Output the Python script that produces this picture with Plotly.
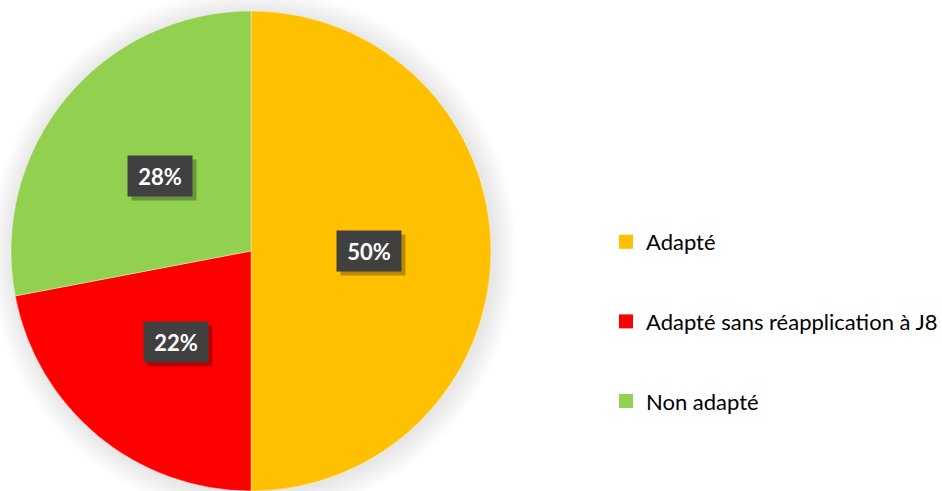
import math
import plotly.graph_objects as go

# Data
categories = ["Adapté", "Adapté sans réapplication à J8", "Non adapté"]
shares = [50, 22, 28]
colors = ["#FFC000", "#FF0000", "#92D050"]

W, H = 942, 491
CX, CY, R = 251, 251, 240          # pie centre / radius in px (y from top)
LABEL_FRAC = 0.49                  # label distance from centre, as fraction of R

fig = go.Figure()

fig.add_trace(go.Pie(
    labels=categories,
    values=shares,
    marker=dict(colors=colors, line=dict(color="rgba(255,255,255,0.6)", width=0.6)),
    sort=False,
    direction="clockwise",
    rotation=0,
    textinfo="none",
    textposition="none",
    showlegend=False,
    hoverinfo="label+percent",
    domain=dict(x=[(CX - R) / W, (CX + R) / W],
                y=[(H - CY - R) / H, (H - CY + R) / H]),
))

# Legend entries as square markers, one group each so they can be spaced out
for name, col in zip(categories, colors):
    fig.add_trace(go.Scatter(
        x=[None], y=[None], mode="markers", name=name, legendgroup=name,
        marker=dict(symbol="square", size=14, color=col),
    ))

# Soft shadow around the pie: stacked translucent discs
shapes = []
for k in range(12, 0, -1):
    r = R + 2 * k
    shapes.append(dict(
        type="circle", xref="paper", yref="paper", layer="below",
        x0=(CX + 2 - r) / W, x1=(CX + 2 + r) / W,
        y0=(H - CY - 2 - r) / H, y1=(H - CY - 2 + r) / H,
        fillcolor="rgba(0,0,0,0.009)", line=dict(width=0),
    ))

# Percentage labels on dark boxes, placed along each slice's mid-angle
annotations = []
total = sum(shares)
cum = 0
for v in shares:
    theta = (cum + v / 2) / total * 2 * math.pi
    cum += v
    px = CX + LABEL_FRAC * R * math.sin(theta)
    py = CY - LABEL_FRAC * R * math.cos(theta)
    pct = f"{round(v / total * 100)}%"
    common = dict(xref="paper", yref="paper", x=px / W, y=1 - py / H,
                  showarrow=False, width=62, height=38,
                  xanchor="center", yanchor="middle")
    annotations.append(dict(text=" ", bgcolor="rgba(0,0,0,0.28)",
                            xshift=4, yshift=-4, **common))
    annotations.append(dict(text=pct, bgcolor="#404040",
                            font=dict(family="Lato", size=22, color="white", weight="bold"),
                            **common))

fig.update_layout(
    width=W, height=H,
    margin=dict(l=0, r=0, t=0, b=0, autoexpand=False),
    paper_bgcolor="white", plot_bgcolor="white",
    xaxis=dict(visible=False), yaxis=dict(visible=False),
    shapes=shapes,
    annotations=annotations,
    legend=dict(
        x=606 / W, y=1 - 221 / H, xanchor="left", yanchor="top",
        font=dict(family="Lato", size=22, color="#000000"),
        tracegroupgap=48, bgcolor="rgba(0,0,0,0)",
    ),
)

fig.write_html("out.html")
